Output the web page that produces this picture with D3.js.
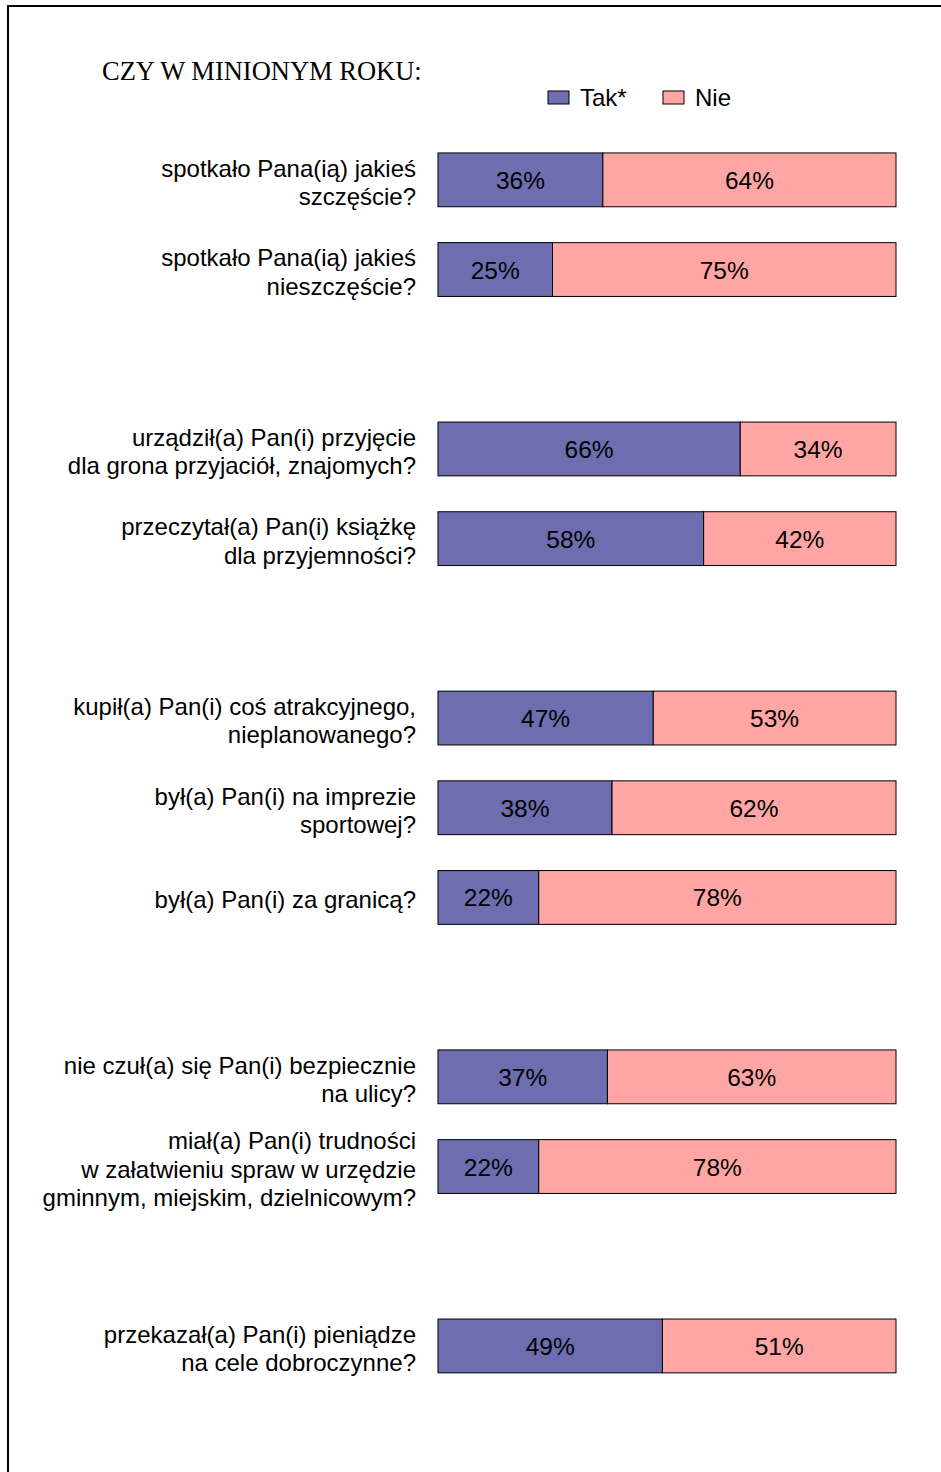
<!DOCTYPE html>
<html><head><meta charset="utf-8">
<script src="https://cdn.jsdelivr.net/npm/d3@7"></script>
<style>body{margin:0;background:#fff}</style>
</head><body>
<script>
const title = "CZY W MINIONYM ROKU:";
const seriesNames = ["Tak*", "Nie"];
const categories = [
  ["spotkało Pana(ią) jakieś", "szczęście?"],
  ["spotkało Pana(ią) jakieś", "nieszczęście?"],
  ["urządził(a) Pan(i) przyjęcie", "dla grona przyjaciół, znajomych?"],
  ["przeczytał(a) Pan(i) książkę", "dla przyjemności?"],
  ["kupił(a) Pan(i) coś atrakcyjnego,", "nieplanowanego?"],
  ["był(a) Pan(i) na imprezie", "sportowej?"],
  ["był(a) Pan(i) za granicą?"],
  ["nie czuł(a) się Pan(i) bezpiecznie", "na ulicy?"],
  ["miał(a) Pan(i) trudności", "w załatwieniu spraw w urzędzie", "gminnym, miejskim, dzielnicowym?"],
  ["przekazał(a) Pan(i) pieniądze", "na cele dobroczynne?"]
];
const groupSizes = [2, 2, 3, 2, 1];
const takValues = [36, 25, 66, 58, 47, 38, 22, 37, 22, 49];
const nieValues = [64, 75, 34, 42, 53, 62, 78, 63, 78, 51];
const colors = ["#6d6daf", "#ffa6a4"];

const W = 941, H = 1472;
const svg = d3.select("body").append("svg").attr("width", W).attr("height", H);

// frame
svg.append("path").attr("d", `M8,${H} L8,6 L${W},6`).attr("fill","none").attr("stroke","#000").attr("stroke-width",2);

svg.append("text").attr("x",102).attr("y",80).text(title)
  .attr("font-family","Liberation Serif, Times New Roman, serif").attr("font-size",26.5).attr("fill","#000");

// slot indices with spacer between groups
const slots = [];
let s = 0;
groupSizes.forEach((g, gi) => { for (let i = 0; i < g; i++) slots.push(s++); s++; });
const nSlots = s - 1;

const y = d3.scaleBand().domain(d3.range(nSlots)).range([135, 135 + 89.7 * nSlots]).paddingInner(0.4).paddingOuter(0.2);
const x = d3.scaleLinear().domain([0, 100]).range([438, 896]);

const font = "Liberation Sans, Arial, sans-serif";
const rows = categories.map((c, i) => ({ label: c, tak: takValues[i], nie: nieValues[i], slot: slots[i] }));

const g = svg.append("g");
rows.forEach(r => {
  const y0 = y(r.slot), h = y.bandwidth();
  const segs = [{v0:0, v1:r.tak, c:colors[0]}, {v0:r.tak, v1:r.tak + r.nie, c:colors[1]}];
  segs.forEach(sg => {
    g.append("rect").attr("x", x(sg.v0)).attr("y", y0).attr("width", x(sg.v1) - x(sg.v0)).attr("height", h)
      .attr("fill", sg.c).attr("stroke", "#000").attr("stroke-width", 1);
    g.append("text").attr("x", (x(sg.v0) + x(sg.v1)) / 2).attr("y", y0 + h / 2 + 9)
      .attr("text-anchor", "middle").attr("font-family", font).attr("font-size", 24.5).attr("fill", "#000")
      .text((sg.v1 - sg.v0) + "%");
  });
  const n = r.label.length, lh = 28.5;
  const cy = y0 + h / 2;
  r.label.forEach((line, li) => {
    g.append("text").attr("x", 416).attr("y", cy + (li - (n - 1) / 2) * lh + 11)
      .attr("text-anchor", "end").attr("font-family", font).attr("font-size", 24).attr("fill", "#000").text(line);
  });
});

// legend
const leg = svg.append("g");
const legX = [548, 663];
seriesNames.forEach((nm, i) => {
  leg.append("rect").attr("x", legX[i]).attr("y", 91).attr("width", 21).attr("height", 13)
    .attr("fill", colors[i]).attr("stroke", "#000").attr("stroke-width", 1);
  leg.append("text").attr("x", legX[i] + 32).attr("y", 106).attr("font-family", font).attr("font-size", 24).text(nm);
});
</script>
</body></html>
